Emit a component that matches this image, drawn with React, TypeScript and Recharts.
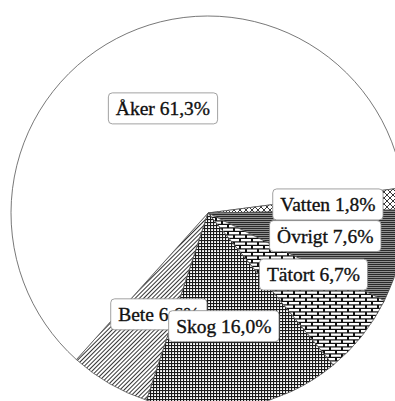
import { PieChart, Pie, Cell } from "recharts";

// Markanvändning, andel av total areal (%)
const landUse = ["Bete", "Åker", "Vatten", "Övrigt", "Tätort", "Skog"];
const share = [6.6, 61.3, 1.8, 7.6, 6.7, 16.0];

const data = landUse.map((name, i) => ({ name, value: share[i] }));

// fill pattern per category
const fills: Record<string, string> = {
  Bete: "url(#hatch-diag)",
  Åker: "#ffffff",
  Vatten: "url(#hatch-lattice)",
  Övrigt: "url(#hatch-lines)",
  Tätort: "url(#hatch-brick)",
  Skog: "url(#hatch-grid)",
};

// small nudges so the boxes sit where they read best
const labelNudge: Record<string, [number, number]> = {
  Bete: [10, -1],
  Åker: [10, 0],
  Vatten: [2, 0],
  Övrigt: [2, -3],
  Tätort: [13, -12],
  Skog: [-6, -3],
};

// Åker/Vatten edge sits a little above 3 o'clock; the ring starts at Bete
const EDGE_ANGLE = 7.4;
const START_ANGLE = EDGE_ANGLE + (share[0] + share[1]) * 3.6;

const FONT = '"Liberation Serif", "Times New Roman", serif';
const FONT_SIZE = 19.5;
const RADIAN = Math.PI / 180;

const ctx =
  typeof document !== "undefined"
    ? document.createElement("canvas").getContext("2d")
    : null;

function measure(s: string) {
  if (!ctx) return s.length * 9;
  ctx.font = `${FONT_SIZE}px ${FONT}`;
  return ctx.measureText(s).width;
}

const fmt = (v: number) => `${v.toFixed(1).replace(".", ",")}%`;

function BoxLabel(props: any) {
  const { cx, cy, midAngle, outerRadius, name, value } = props;
  const r = outerRadius * 0.6;
  const [dx, dy] = labelNudge[name] ?? [0, 0];
  const x = cx + r * Math.cos(-midAngle * RADIAN) + dx;
  const y = cy + r * Math.sin(-midAngle * RADIAN) + dy;
  const text = `${name} ${fmt(value)}`;
  const w = measure(text) + 15;
  const h = 31;
  return (
    <g>
      <rect
        x={x - w / 2}
        y={y - h / 2}
        width={w}
        height={h}
        rx={4}
        fill="#fff"
        stroke="#8a8a8a"
        strokeWidth={0.8}
      />
      <text
        x={x}
        y={y + 6.5}
        textAnchor="middle"
        fontFamily={FONT}
        fontSize={FONT_SIZE}
        fill="#111"
        stroke="#111"
        strokeWidth={0.35}
      >
        {text}
      </text>
    </g>
  );
}

export default function App() {
  return (
    <div style={{ position: "absolute", left: 0, top: 0, background: "#fff" }}>
      <PieChart width={395} height={401}>
        <defs>
          <pattern id="hatch-diag" width="3" height="3" patternUnits="userSpaceOnUse" patternTransform="rotate(45)">
            <rect width="3" height="3" fill="#fff" />
            <rect width="1" height="3" fill="#333" />
          </pattern>
          <pattern id="hatch-lattice" width="6" height="6" patternUnits="userSpaceOnUse">
            <rect width="6" height="6" fill="#fff" />
            <path d="M0,0 L6,6 M6,0 L0,6" stroke="#222" strokeWidth="0.9" />
          </pattern>
          <pattern id="hatch-lines" width="4" height="2" patternUnits="userSpaceOnUse">
            <rect width="4" height="2" fill="#a8a8a8" />
            <rect width="4" height="1.2" fill="#2a2a2a" />
          </pattern>
          <pattern id="hatch-brick" width="12" height="7" patternUnits="userSpaceOnUse">
            <rect width="12" height="7" fill="#111" />
            <rect x="1" y="1" width="10" height="2.3" fill="#fff" />
            <rect x="-5" y="4.5" width="10" height="2.3" fill="#fff" />
            <rect x="7" y="4.5" width="10" height="2.3" fill="#fff" />
          </pattern>
          <pattern id="hatch-grid" width="3" height="3" patternUnits="userSpaceOnUse">
            <rect width="3" height="3" fill="#fff" />
            <rect width="3" height="1.1" fill="#1a1a1a" />
            <rect width="1.1" height="3" fill="#1a1a1a" />
          </pattern>
        </defs>
        <Pie
          data={data}
          dataKey="value"
          nameKey="name"
          cx={203}
          cy={208}
          outerRadius={197}
          startAngle={START_ANGLE}
          endAngle={START_ANGLE - 360}
          stroke="#555"
          strokeWidth={0.8}
          labelLine={false}
          label={BoxLabel}
          isAnimationActive={false}
        >
          {data.map((d) => (
            <Cell key={d.name} fill={fills[d.name]} />
          ))}
        </Pie>
      </PieChart>
    </div>
  );
}
